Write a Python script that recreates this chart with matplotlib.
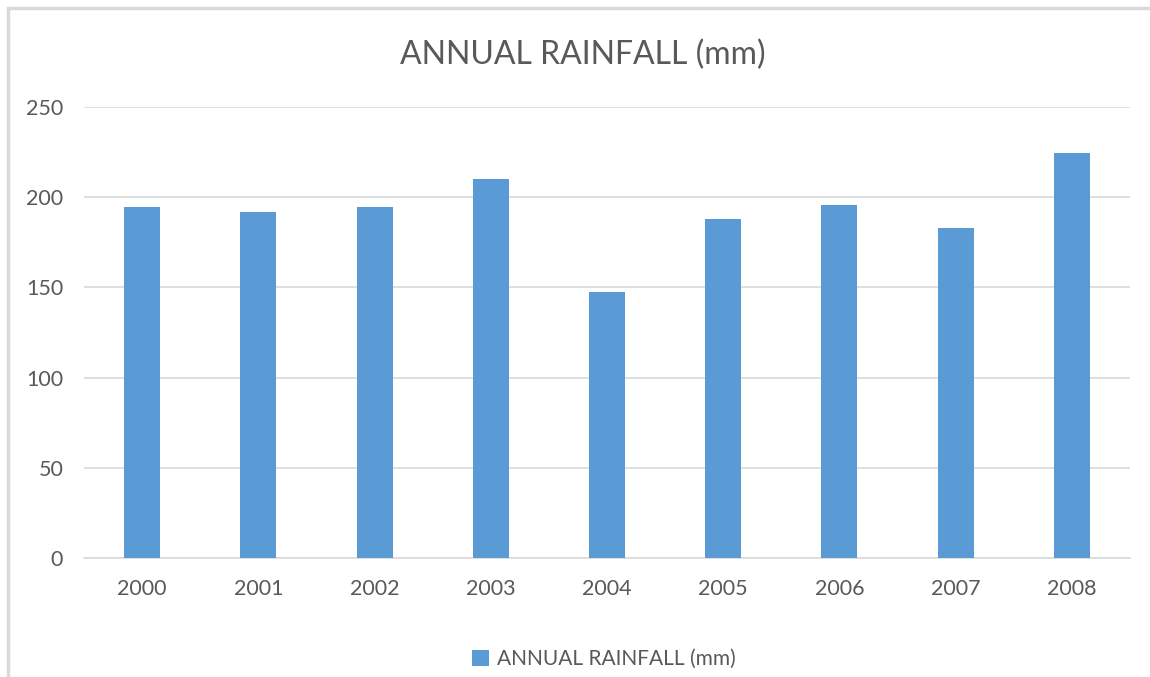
import numpy as np
import matplotlib.pyplot as plt
from matplotlib.patches import Rectangle

years = ["2000", "2001", "2002", "2003", "2004", "2005", "2006", "2007", "2008"]
rainfall = [194.6, 191.8, 194.6, 210.0, 147.5, 188.0, 195.7, 183.0, 224.5]
yticks = [0, 50, 100, 150, 200, 250]

plt.rcParams['font.family'] = ['Lato', 'DejaVu Sans']
txt = "#595959"
grid = "#D9D9D9"

fig = plt.figure(figsize=(11.5, 6.77), dpi=100)
ax = fig.add_axes([84/1150, 1-558/677, 1046/1150, 451/677])

x = np.arange(len(years))
bars = ax.bar(x, rainfall, width=0.31, color="#5B9BD5", zorder=3,
              label="ANNUAL RAINFALL (mm)")
ax.set_xlim(-0.5, len(years)-0.5)
ax.set_ylim(0, 250)
ax.set_yticks(yticks)
ax.set_xticks(x)
ax.set_xticklabels(years)
ax.yaxis.grid(True, color=grid, linewidth=1.2, zorder=0)
ax.tick_params(length=0, labelsize=15.5, labelcolor=txt)
ax.tick_params(axis='x', pad=15)
ax.tick_params(axis='y', pad=15)
for s in ["top", "right", "left"]:
    ax.spines[s].set_visible(False)
ax.spines["bottom"].set_color(grid)
ax.spines["bottom"].set_linewidth(1.2)
for t in ax.get_yticklabels():
    t.set_clip_on(False)

fig.text(583/1150, 1-55/677, "ANNUAL RAINFALL (mm)", ha="center", va="center",
         fontsize=23, color=txt)

fig.legend(handles=[bars], labels=["ANNUAL RAINFALL (mm)"], loc="center",
           bbox_to_anchor=(604/1150, 1-659/677), frameon=False, fontsize=15,
           labelcolor=txt, handlelength=0.8, handleheight=0.8, handletextpad=0.4)

# outer chart frame
fig.patches.append(Rectangle((8/1150, -0.05), 1.1, 1-8/677+0.05,
                             transform=fig.transFigure, fill=False,
                             edgecolor=grid, linewidth=2.5))

plt.savefig("out.png", dpi=100)
